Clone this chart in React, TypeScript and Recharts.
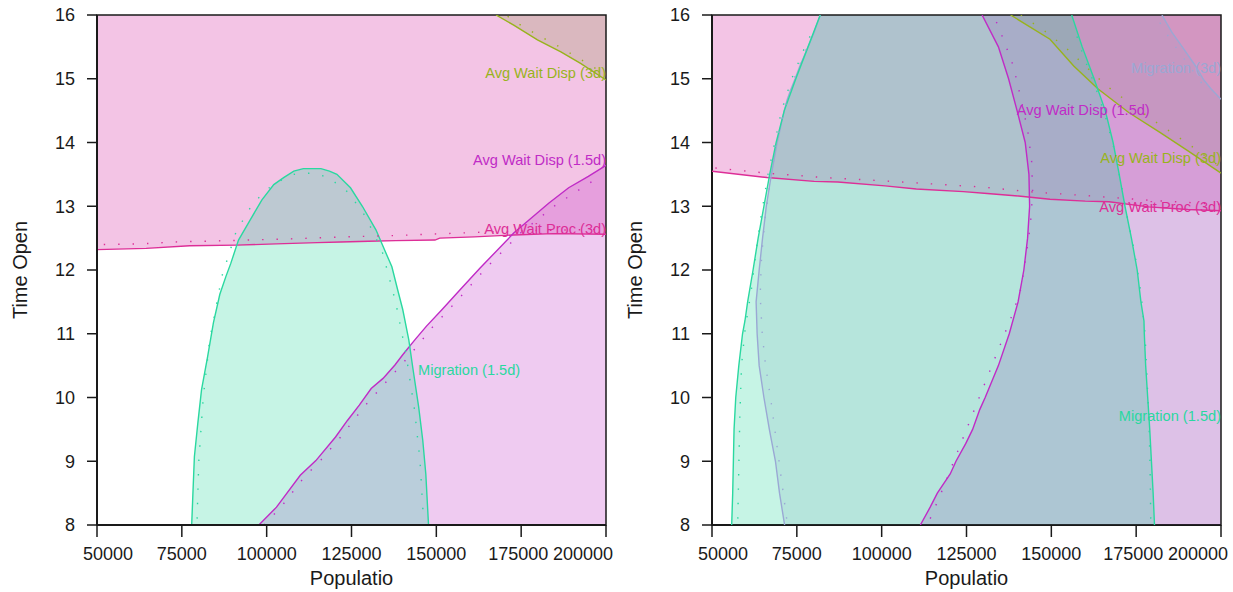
import React from 'react';
import { ComposedChart, Area, Line, XAxis, YAxis, ReferenceDot, ReferenceArea } from 'recharts';

// ---------- shared axis data ----------
const X_DOMAIN: [number, number] = [50000, 200000];
const Y_DOMAIN: [number, number] = [8, 16];
const xTicks = [50000, 75000, 100000, 125000, 150000, 175000, 200000];
const yTicks = [8, 9, 10, 11, 12, 13, 14, 15, 16];
const xTitle = 'Populatio';
const yTitle = 'Time Open';

type P = { x: number; y: number };
type Band = { y: number; lo: number; hi: number };
type Lbl = { text: string; x: number; y: number };

// ---------- left panel ----------
const leftProcLine: P[] = [
  { x: 50000, y: 12.32 }, { x: 64500, y: 12.34 }, { x: 77300, y: 12.38 }, { x: 91200, y: 12.39 },
  { x: 102800, y: 12.41 }, { x: 114900, y: 12.43 }, { x: 121800, y: 12.44 }, { x: 130000, y: 12.45 },
  { x: 138000, y: 12.46 }, { x: 149600, y: 12.47 }, { x: 151000, y: 12.5 }, { x: 161200, y: 12.52 },
  { x: 172800, y: 12.55 }, { x: 184400, y: 12.57 }, { x: 200000, y: 12.56 },
];
const leftProcDots: P[] = [
  { x: 52000, y: 12.4 }, { x: 63000, y: 12.41 }, { x: 73000, y: 12.44 }, { x: 88000, y: 12.46 },
  { x: 108000, y: 12.49 }, { x: 123000, y: 12.52 }, { x: 138000, y: 12.54 }, { x: 147000, y: 12.56 },
  { x: 162000, y: 12.59 }, { x: 180000, y: 12.62 }, { x: 200000, y: 12.64 },
];
const leftMig15: P[] = [
  { x: 77900, y: 8.0 }, { x: 78300, y: 8.54 }, { x: 78700, y: 9.07 }, { x: 79700, y: 9.59 },
  { x: 80800, y: 10.12 }, { x: 82600, y: 10.64 }, { x: 84300, y: 11.17 }, { x: 86200, y: 11.62 },
  { x: 88000, y: 11.9 }, { x: 89400, y: 12.1 }, { x: 91700, y: 12.47 }, { x: 95200, y: 12.79 },
  { x: 98600, y: 13.1 }, { x: 102100, y: 13.34 }, { x: 105000, y: 13.45 }, { x: 108000, y: 13.55 },
  { x: 110800, y: 13.59 }, { x: 116000, y: 13.59 }, { x: 118500, y: 13.55 }, { x: 120700, y: 13.5 },
  { x: 124700, y: 13.29 }, { x: 128200, y: 13.0 }, { x: 132200, y: 12.63 }, { x: 136900, y: 12.05 },
  { x: 138600, y: 11.69 }, { x: 140100, y: 11.38 }, { x: 141900, y: 10.9 }, { x: 143000, y: 10.49 },
  { x: 144800, y: 9.85 }, { x: 146000, y: 9.33 }, { x: 146900, y: 8.8 }, { x: 147700, y: 8.0 },
];
const leftMig15Dots: P[] = [
  { x: 79500, y: 8.1 }, { x: 80000, y: 9.0 }, { x: 81300, y: 10.0 }, { x: 83200, y: 10.9 },
  { x: 86800, y: 11.9 }, { x: 91000, y: 12.6 }, { x: 96000, y: 13.05 }, { x: 102000, y: 13.35 },
  { x: 108000, y: 13.5 }, { x: 113000, y: 13.52 }, { x: 118000, y: 13.46 }, { x: 124000, y: 13.22 },
  { x: 129000, y: 12.85 }, { x: 134000, y: 12.3 }, { x: 138000, y: 11.5 }, { x: 141000, y: 10.7 },
  { x: 143600, y: 9.8 }, { x: 145200, y: 9.0 }, { x: 146200, y: 8.1 },
];
const leftDisp15: P[] = [
  { x: 97700, y: 8.0 }, { x: 102900, y: 8.28 }, { x: 109900, y: 8.78 }, { x: 114500, y: 9.01 },
  { x: 120300, y: 9.38 }, { x: 123800, y: 9.64 }, { x: 127300, y: 9.88 }, { x: 130800, y: 10.14 },
  { x: 134300, y: 10.3 }, { x: 137800, y: 10.51 }, { x: 140100, y: 10.67 }, { x: 143600, y: 10.9 },
  { x: 147100, y: 11.12 }, { x: 151700, y: 11.38 }, { x: 157000, y: 11.69 }, { x: 162900, y: 12.03 },
  { x: 172800, y: 12.58 }, { x: 183200, y: 13.05 }, { x: 189000, y: 13.29 }, { x: 194800, y: 13.47 },
  { x: 200000, y: 13.64 },
];
const leftDisp15Dots: P[] = [
  { x: 99200, y: 8.0 }, { x: 104200, y: 8.28 }, { x: 111200, y: 8.76 }, { x: 116000, y: 9.02 },
  { x: 121800, y: 9.38 }, { x: 128800, y: 9.86 }, { x: 135800, y: 10.28 }, { x: 141800, y: 10.64 },
  { x: 148800, y: 11.1 }, { x: 156800, y: 11.56 }, { x: 164800, y: 12.04 }, { x: 174800, y: 12.58 },
  { x: 185200, y: 13.02 }, { x: 196200, y: 13.4 },
];
const leftDisp3: P[] = [
  { x: 167600, y: 16.0 }, { x: 172800, y: 15.84 }, { x: 179800, y: 15.61 }, { x: 186700, y: 15.42 },
  { x: 192500, y: 15.24 }, { x: 200000, y: 14.98 },
];
const leftDisp3Dots: P[] = [
  { x: 171000, y: 15.98 }, { x: 176000, y: 15.8 }, { x: 181500, y: 15.64 }, { x: 187000, y: 15.48 },
  { x: 192000, y: 15.32 }, { x: 197000, y: 15.16 },
];
const leftLabels: Lbl[] = [
  { text: 'Avg Wait Disp (3d)', x: 200000, y: 15.09 },
  { text: 'Avg Wait Disp (1.5d)', x: 200000, y: 13.73 },
  { text: 'Avg Wait Proc (3d)', x: 200000, y: 12.64 },
  { text: 'Migration (1.5d)', x: 144600, y: 10.43 },
];

// ---------- right panel ----------
const rightProcLine: P[] = [
  { x: 50000, y: 13.55 }, { x: 66200, y: 13.45 }, { x: 80100, y: 13.39 }, { x: 87100, y: 13.38 },
  { x: 101000, y: 13.32 }, { x: 110200, y: 13.27 }, { x: 124100, y: 13.23 }, { x: 131100, y: 13.2 },
  { x: 140300, y: 13.16 }, { x: 149600, y: 13.11 }, { x: 160000, y: 13.08 }, { x: 167000, y: 13.07 },
  { x: 178600, y: 12.99 }, { x: 190200, y: 12.95 }, { x: 200000, y: 12.93 },
];
const rightProcDots: P[] = [
  { x: 51000, y: 13.6 }, { x: 66000, y: 13.52 }, { x: 83000, y: 13.45 }, { x: 100000, y: 13.4 },
  { x: 118000, y: 13.34 }, { x: 130000, y: 13.3 }, { x: 143000, y: 13.23 }, { x: 162000, y: 13.16 },
  { x: 180000, y: 13.09 }, { x: 200000, y: 13.03 },
];
const rightDisp3: P[] = [
  { x: 138000, y: 16.0 }, { x: 149600, y: 15.62 }, { x: 156600, y: 15.2 }, { x: 163800, y: 14.84 },
  { x: 172800, y: 14.47 }, { x: 182000, y: 14.16 }, { x: 190500, y: 13.86 }, { x: 200000, y: 13.52 },
];
const rightDisp3Dots: P[] = [
  { x: 141000, y: 16.0 }, { x: 148000, y: 15.75 }, { x: 154000, y: 15.5 }, { x: 160000, y: 15.2 },
  { x: 166000, y: 14.9 }, { x: 173000, y: 14.62 }, { x: 180000, y: 14.35 }, { x: 187000, y: 14.1 },
  { x: 193000, y: 13.88 }, { x: 199000, y: 13.65 },
];
const rightMig15: Band[] = [
  { y: 8.0, lo: 55800, hi: 180400 }, { y: 8.5, lo: 56100, hi: 180000 }, { y: 9.0, lo: 56300, hi: 179500 },
  { y: 9.5, lo: 56500, hi: 179000 }, { y: 10.0, lo: 57000, hi: 178400 }, { y: 10.5, lo: 57900, hi: 177800 },
  { y: 11.0, lo: 59000, hi: 177400 }, { y: 11.2, lo: 59700, hi: 177300 }, { y: 11.5, lo: 60500, hi: 176400 },
  { y: 12.0, lo: 62100, hi: 175300 }, { y: 12.5, lo: 63600, hi: 173600 }, { y: 13.0, lo: 65300, hi: 171700 },
  { y: 13.5, lo: 67000, hi: 170000 }, { y: 14.0, lo: 68900, hi: 168200 }, { y: 14.5, lo: 71300, hi: 165900 },
  { y: 15.0, lo: 74700, hi: 162600 }, { y: 15.5, lo: 78300, hi: 159100 }, { y: 16.0, lo: 81900, hi: 156000 },
];
const rightMig15LoDots: P[] = [
  { x: 57600, y: 8.1 }, { x: 57900, y: 8.9 }, { x: 58200, y: 9.7 }, { x: 58700, y: 10.5 },
  { x: 59800, y: 11.1 }, { x: 61500, y: 11.65 }, { x: 63000, y: 12.3 }, { x: 64500, y: 12.85 },
  { x: 66500, y: 13.5 }, { x: 68500, y: 14.0 }, { x: 70500, y: 14.5 }, { x: 73500, y: 15.0 },
  { x: 77000, y: 15.45 }, { x: 80500, y: 15.85 },
];
const rightMig15HiDots: P[] = [
  { x: 179300, y: 8.1 }, { x: 179100, y: 8.9 }, { x: 178800, y: 9.6 }, { x: 178200, y: 10.3 },
  { x: 177600, y: 11.0 }, { x: 176500, y: 11.6 }, { x: 174500, y: 12.3 }, { x: 172500, y: 12.8 },
  { x: 170400, y: 13.4 }, { x: 168500, y: 13.9 }, { x: 166000, y: 14.4 }, { x: 162800, y: 14.9 },
  { x: 159500, y: 15.35 }, { x: 157000, y: 15.75 },
];
const rightMig3: Band[] = [
  { y: 8.0, lo: 71400, hi: 200000 }, { y: 8.5, lo: 69900, hi: 200000 }, { y: 9.0, lo: 68700, hi: 200000 },
  { y: 9.5, lo: 66900, hi: 200000 }, { y: 10.0, lo: 65300, hi: 200000 }, { y: 10.5, lo: 63900, hi: 200000 },
  { y: 11.0, lo: 63300, hi: 200000 }, { y: 11.5, lo: 63000, hi: 200000 }, { y: 12.0, lo: 63900, hi: 200000 },
  { y: 12.5, lo: 64900, hi: 200000 }, { y: 13.0, lo: 66000, hi: 200000 }, { y: 13.5, lo: 67500, hi: 200000 },
  { y: 14.0, lo: 69200, hi: 200000 }, { y: 14.5, lo: 71300, hi: 200000 }, { y: 14.68, lo: 72200, hi: 200000 },
  { y: 14.84, lo: 73300, hi: 197100 }, { y: 15.0, lo: 74500, hi: 194800 }, { y: 15.2, lo: 75900, hi: 192500 },
  { y: 15.47, lo: 78100, hi: 189000 }, { y: 15.73, lo: 80100, hi: 185500 }, { y: 16.0, lo: 81900, hi: 182600 },
];
const rightMig3LoDots: P[] = [
  { x: 72000, y: 8.1 }, { x: 70500, y: 8.7 }, { x: 69000, y: 9.3 }, { x: 67500, y: 9.9 },
  { x: 65800, y: 10.5 }, { x: 64800, y: 11.0 }, { x: 64200, y: 11.6 }, { x: 64600, y: 12.2 },
  { x: 65600, y: 12.8 }, { x: 67200, y: 13.4 }, { x: 69000, y: 14.0 }, { x: 71200, y: 14.5 },
  { x: 74200, y: 15.0 }, { x: 78000, y: 15.5 },
];
const rightMig3HiDots: P[] = [
  { x: 182000, y: 15.88 }, { x: 185000, y: 15.62 }, { x: 188500, y: 15.36 }, { x: 192000, y: 15.1 },
  { x: 195500, y: 14.84 },
];
const rightDisp15: Band[] = [
  { y: 8.0, lo: 111400, hi: 200000 }, { y: 8.28, lo: 114300, hi: 200000 }, { y: 8.5, lo: 116400, hi: 200000 },
  { y: 8.8, lo: 120200, hi: 200000 }, { y: 9.0, lo: 121900, hi: 200000 }, { y: 9.28, lo: 124800, hi: 200000 },
  { y: 9.5, lo: 126800, hi: 200000 }, { y: 9.81, lo: 128900, hi: 200000 }, { y: 10.0, lo: 130500, hi: 200000 },
  { y: 10.5, lo: 134400, hi: 200000 }, { y: 11.0, lo: 137600, hi: 200000 }, { y: 11.5, lo: 140200, hi: 200000 },
  { y: 12.0, lo: 141900, hi: 200000 }, { y: 12.5, lo: 143000, hi: 200000 }, { y: 13.0, lo: 143600, hi: 200000 },
  { y: 13.5, lo: 143400, hi: 200000 }, { y: 14.0, lo: 142300, hi: 200000 }, { y: 14.5, lo: 139900, hi: 200000 },
  { y: 15.0, lo: 137400, hi: 200000 }, { y: 15.5, lo: 134400, hi: 200000 }, { y: 16.0, lo: 129600, hi: 200000 },
];
const rightDisp15Dots: P[] = [
  { x: 114300, y: 8.1 }, { x: 117500, y: 8.5 }, { x: 120500, y: 8.9 }, { x: 123500, y: 9.3 },
  { x: 126500, y: 9.7 }, { x: 129500, y: 10.1 }, { x: 132500, y: 10.5 }, { x: 135500, y: 10.9 },
  { x: 138500, y: 11.3 }, { x: 141000, y: 11.7 }, { x: 142500, y: 12.2 }, { x: 143800, y: 12.7 },
  { x: 144500, y: 13.2 }, { x: 144200, y: 13.7 }, { x: 143000, y: 14.2 }, { x: 141000, y: 14.7 },
  { x: 138800, y: 15.2 }, { x: 136000, y: 15.6 }, { x: 133000, y: 16.0 },
];
const rightMig3Top: P[] = [
  { x: 182600, y: 16.0 }, { x: 185500, y: 15.73 }, { x: 189000, y: 15.47 }, { x: 192500, y: 15.2 },
  { x: 194800, y: 14.99 }, { x: 197100, y: 14.84 }, { x: 200000, y: 14.68 },
];
const rightLabels: Lbl[] = [
  { text: 'Migration (3d)', x: 200000, y: 15.17 },
  { text: 'Avg Wait Disp (1.5d)', x: 139800, y: 14.51 },
  { text: 'Avg Wait Disp (3d)', x: 200000, y: 13.76 },
  { text: 'Avg Wait Proc (3d)', x: 200000, y: 12.99 },
  { text: 'Migration (1.5d)', x: 200000, y: 9.71 },
];

// ---------- styles ----------
const FONT = '"Liberation Sans", Arial, Helvetica, sans-serif';
const INK = '#1a1a1a';
const C = {
  proc: '#dd2e97',
  disp15: '#c02bc6',
  disp3: '#98b31c',
  mig15: '#2ad8a0',
  mig3: '#9aa8d4',
};
const F = {
  proc: { fill: '#d63ca8', fillOpacity: 0.3 },
  disp15: { fill: '#c030c8', fillOpacity: 0.25 },
  disp3: { fill: '#a39c66', fillOpacity: 0.3 },
  mig15: { fill: '#2ed6a0', fillOpacity: 0.27 },
  mig3: { fill: '#969dc3', fillOpacity: 0.2 },
};
const W = 616;
const H = 592;
const BASE_MARGIN = { top: 15, right: 10, bottom: 5, left: 5 };
const OVER_MARGIN = { top: 15, right: 10, bottom: 67, left: 97 };
const Y_AXIS_W = 92;
const X_AXIS_H = 62;
const DOTS = '1.4 13';

function XTick(props: any) {
  const { x, y, payload } = props;
  const v = payload.value;
  const nudge = v === X_DOMAIN[0] ? 11 : v === X_DOMAIN[1] ? -23 : v === 175000 ? -3 : 0;
  return (
    <text x={x + nudge} y={y} dy="0.71em" textAnchor="middle" fill={INK} fontSize={18} fontFamily={FONT}>
      {v}
    </text>
  );
}

function renderAxes() {
  return [
    <XAxis
      key="xa"
      type="number"
      dataKey="x"
      domain={X_DOMAIN}
      ticks={xTicks}
      interval={0}
      allowDataOverflow
      height={X_AXIS_H}
      tickSize={12}
      tickMargin={10}
      tick={(p: any) => <XTick {...p} />}
      axisLine={{ stroke: INK, strokeWidth: 2 }}
      tickLine={{ stroke: INK, strokeWidth: 1.5 }}
      label={{ value: xTitle, position: 'insideBottom', offset: 2, fill: INK, fontSize: 20, fontFamily: FONT }}
    />,
    <YAxis
      key="ya"
      type="number"
      dataKey="y"
      domain={Y_DOMAIN}
      ticks={yTicks}
      interval={0}
      allowDataOverflow
      width={Y_AXIS_W}
      tickSize={10}
      tickMargin={12}
      tick={{ fill: INK, fontSize: 18, fontFamily: FONT }}
      axisLine={{ stroke: INK, strokeWidth: 2 }}
      tickLine={{ stroke: INK, strokeWidth: 1.5 }}
      label={{
        value: yTitle,
        angle: -90,
        position: 'insideLeft',
        offset: 15,
        fill: INK,
        fontSize: 20,
        fontFamily: FONT,
        style: { textAnchor: 'middle' },
      }}
    />,
  ];
}

function textShape(text: string, color: string, anchor: 'start' | 'end') {
  return (p: any) => (
    <text x={p.cx} y={p.cy} dy="0.35em" textAnchor={anchor} fill={color} fontSize={14.6} fontFamily={FONT}>
      {text}
    </text>
  );
}

function renderLabels(labels: Lbl[], colors: string[]) {
  return labels.map((l, i) => (
    <ReferenceDot
      key={'lbl' + i}
      x={l.x}
      y={l.y}
      r={0}
      ifOverflow="visible"
      shape={textShape(l.text, colors[i], l.x >= X_DOMAIN[1] ? 'end' : 'start')}
    />
  ));
}

function frame() {
  return (
    <ReferenceArea
      x1={X_DOMAIN[0]}
      x2={X_DOMAIN[1]}
      y1={Y_DOMAIN[0]}
      y2={Y_DOMAIN[1]}
      fill="none"
      fillOpacity={0}
      stroke={INK}
      strokeWidth={1.5}
      ifOverflow="visible"
    />
  );
}

const lineProps = { dot: false, isAnimationActive: false, type: 'linear' as const, strokeWidth: 1.4 };
const dotProps = { dot: false, isAnimationActive: false, type: 'linear' as const, strokeWidth: 1.4, strokeDasharray: DOTS };

function LeftPanel() {
  return (
    <div style={{ position: 'absolute', left: 0, top: 0 }}>
      <ComposedChart width={W} height={H} margin={BASE_MARGIN}>
        {renderAxes()}
        <Area data={leftProcLine} dataKey={(d: P) => [d.y, 16]} stroke="none" {...F.proc} isAnimationActive={false} type="linear" />
        <Area data={leftDisp3} dataKey={(d: P) => [d.y, 16]} stroke="none" {...F.disp3} isAnimationActive={false} type="linear" />
        <Area data={leftDisp15} dataKey={(d: P) => [8, d.y]} stroke="none" {...F.disp15} isAnimationActive={false} type="linear" />
        <Area data={leftMig15} dataKey={(d: P) => [8, d.y]} stroke="none" {...F.mig15} isAnimationActive={false} type="linear" />
        <Line data={leftProcLine} dataKey="y" stroke={C.proc} {...lineProps} />
        <Line data={leftDisp15} dataKey="y" stroke={C.disp15} {...lineProps} />
        <Line data={leftDisp3} dataKey="y" stroke={C.disp3} {...lineProps} />
        <Line data={leftMig15} dataKey="y" stroke={C.mig15} {...lineProps} />
        <Line data={leftProcDots} dataKey="y" stroke={C.proc} {...dotProps} />
        <Line data={leftDisp15Dots} dataKey="y" stroke={C.disp15} {...dotProps} />
        <Line data={leftDisp3Dots} dataKey="y" stroke={C.disp3} {...dotProps} />
        <Line data={leftMig15Dots} dataKey="y" stroke={C.mig15} {...dotProps} />
        {renderLabels(leftLabels, [C.disp3, C.disp15, C.proc, C.mig15])}
        {frame()}
      </ComposedChart>
    </div>
  );
}

function RightPanel() {
  return (
    <div style={{ position: 'absolute', left: 615, top: 0, width: W, height: H }}>
      <div style={{ position: 'absolute', left: 0, top: 0 }}>
        <ComposedChart width={W} height={H} margin={BASE_MARGIN}>
          {renderAxes()}
          <Area data={rightProcLine} dataKey={(d: P) => [d.y, 16]} stroke="none" {...F.proc} isAnimationActive={false} type="linear" />
          <Area data={rightDisp3} dataKey={(d: P) => [d.y, 16]} stroke="none" {...F.disp3} isAnimationActive={false} type="linear" />
        </ComposedChart>
      </div>
      <div style={{ position: 'absolute', left: 0, top: 0 }}>
        <ComposedChart layout="vertical" width={W} height={H} margin={OVER_MARGIN}>
          <XAxis type="number" domain={X_DOMAIN} allowDataOverflow hide />
          <YAxis type="number" dataKey="y" domain={Y_DOMAIN} allowDataOverflow hide reversed />
          <Area data={rightDisp15} dataKey={(d: Band) => [d.lo, d.hi]} stroke="none" {...F.disp15} isAnimationActive={false} type="linear" />
          <Area data={rightMig3} dataKey={(d: Band) => [d.lo, d.hi]} stroke="none" {...F.mig3} isAnimationActive={false} type="linear" />
          <Area data={rightMig15} dataKey={(d: Band) => [d.lo, d.hi]} stroke="none" {...F.mig15} isAnimationActive={false} type="linear" />
          <Line data={rightProcLine} dataKey="x" stroke={C.proc} {...lineProps} />
          <Line data={rightDisp3} dataKey="x" stroke={C.disp3} {...lineProps} />
          <Line data={rightDisp15} dataKey="lo" stroke={C.disp15} {...lineProps} />
          <Line data={rightMig3} dataKey="lo" stroke={C.mig3} {...lineProps} />
          <Line data={rightMig3Top} dataKey="x" stroke={C.mig3} {...lineProps} />
          <Line data={rightMig15} dataKey="lo" stroke={C.mig15} {...lineProps} />
          <Line data={rightMig15} dataKey="hi" stroke={C.mig15} {...lineProps} />
          <Line data={rightProcDots} dataKey="x" stroke={C.proc} {...dotProps} />
          <Line data={rightDisp3Dots} dataKey="x" stroke={C.disp3} {...dotProps} />
          <Line data={rightDisp15Dots} dataKey="x" stroke={C.disp15} {...dotProps} />
          <Line data={rightMig3LoDots} dataKey="x" stroke={C.mig3} {...dotProps} />
          <Line data={rightMig3HiDots} dataKey="x" stroke={C.mig3} {...dotProps} />
          <Line data={rightMig15LoDots} dataKey="x" stroke={C.mig15} {...dotProps} />
          <Line data={rightMig15HiDots} dataKey="x" stroke={C.mig15} {...dotProps} />
          {renderLabels(rightLabels, [C.mig3, C.disp15, C.disp3, C.proc, C.mig15])}
          {frame()}
        </ComposedChart>
      </div>
    </div>
  );
}

export default function App() {
  return (
    <div style={{ position: 'absolute', left: 0, top: 0, width: 1233, height: 592, background: '#ffffff', overflow: 'hidden' }}>
      <LeftPanel />
      <RightPanel />
    </div>
  );
}
